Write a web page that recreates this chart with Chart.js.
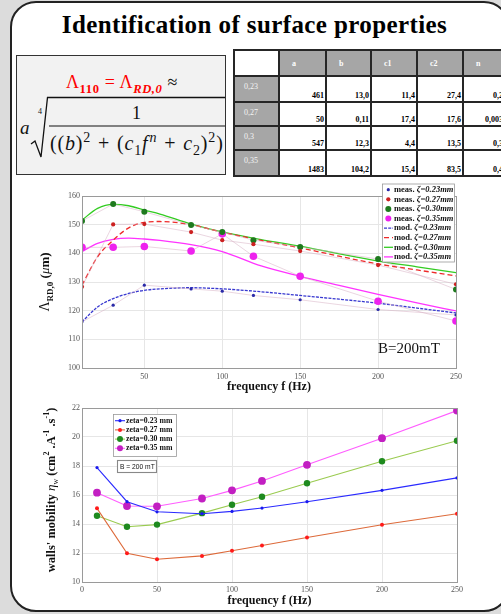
<!DOCTYPE html>
<html>
<head>
<meta charset="utf-8">
<script src="https://cdn.jsdelivr.net/npm/chart.js@4.4.1/dist/chart.umd.min.js"></script>
<style>
  html, body { margin: 0; padding: 0; }
  body { width: 501px; height: 614px; overflow: hidden; background: #dcdcdc; position: relative; font-family: 'Liberation Serif', serif; }
  #panel { position: absolute; left: 10px; top: 1px; width: 500px; height: 611px; box-sizing: border-box;
           border: 2px solid #222; border-radius: 26px; background: #fff; overflow: hidden; }
  #titre { position: absolute; left: 4px; top: 12px; width: 501px; text-align: center; font: bold 25px 'Liberation Serif', serif; line-height: 25px; letter-spacing: 0.4px; color: #000; }
  #formule { position: absolute; left: 16px; top: 55px; width: 210px; height: 120px; box-sizing: border-box;
             border: 1.5px solid #333; background: #f2f2f2; overflow: hidden; font-family: 'Liberation Serif', serif; color: #111; }
  #formule div, #formule svg { position: absolute; white-space: nowrap; line-height: 1; }
  #formule sub, #formule sup { font-size: 0.7em; line-height: 0; }
  #tabela { position: absolute; left: 233px; top: 49px; border-collapse: collapse; table-layout: fixed; font-family: 'Liberation Serif', serif; }
  #tabela td { border: 2px solid #262626; padding: 0; box-sizing: border-box; font-size: 8px; }
  #tabela td.cab { background: #a6a6a6; color: #fff; font-weight: bold; padding-left: 12px; vertical-align: middle; }
  #tabela td.lin { background: #a6a6a6; color: #f4f4f4; padding-left: 9px; padding-top: 5px; vertical-align: top; }
  #tabela td.val { background: #fff; color: #000; font-weight: bold; text-align: right; vertical-align: bottom; padding-right: 1px; padding-bottom: 1px; }
  canvas { position: absolute; left: 0; }
  #c1 { top: 180px; }
  #c2 { top: 400px; }
</style>
</head>
<body>
<div id="panel"></div>
<div id="titre">Identification of surface properties</div>

<div id="formule">
  <div style="left:0; width:210px; top:17px; text-align:center; font-size:18px; letter-spacing:0.6px;"><span style="color:#f00">Λ<sub style="font-weight:bold">110</sub> = Λ<sub style="font-weight:bold;font-style:italic">RD,0</sub></span> ≈</div>
  <div style="left:3px; top:62px; font-size:19px; font-style:italic;">a</div>
  <div style="left:21px; top:52px; font-size:8px;">4</div>
  <svg width="210" height="120" style="left:0;top:0;"><path d="M14 88 L18 85 L24 101 L30.5 41.5 L210 41.5" fill="none" stroke="#111" stroke-width="1.3"/><line x1="32" y1="70" x2="210" y2="70" stroke="#111" stroke-width="1.2"/></svg>
  <div style="left:32px; width:175px; top:48px; text-align:center; font-size:18px;">1</div>
  <div style="left:33px; top:77px; font-size:20px; letter-spacing:0.8px;">((<i>b</i>)<sup>2</sup><span style="margin:0 7px">+</span>(<i>c</i><sub>1</sub><i style="margin-right:1px">f</i><sup><i>n</i></sup><span style="margin:0 7px">+</span><i>c</i><sub>2</sub>)<sup>2</sup>)</div>
</div>

<table id="tabela"></table>

<canvas id="c1" width="501" height="215"></canvas>
<canvas id="c2" width="501" height="214"></canvas>

<script>
// ---- dados da tabela ----
const colunasTabela = ['a', 'b', 'c1', 'c2', 'n'];
const linhasTabela = ['0,23', '0,27', '0,3', '0,35'];
const paramA = ['461', '50', '547', '1483'];
const paramB = ['13,0', '0,11', '12,3', '104,2'];
const paramC1 = ['11,4', '17,4', '4,4', '15,4'];
const paramC2 = ['27,4', '17,6', '13,5', '83,5'];
const paramN = ['0,26', '0,0037', '0,31', '0,46'];

// ---- grafico 1 : Lambda RD,0 ----
const zetas = ['0.23', '0.27', '0.30', '0.35'];
const freq = [10, 30, 50, 80, 100, 120, 150, 200, 250];
const measZ23 = [116.1, 121.9, 128.9, 127.6, 126.8, 125.3, 123.8, 120.4, 118.5];
const measZ27 = [128.3, 150.1, 150.2, 147.4, 144.6, 143.2, 140.8, 135.9, 129.2];
const measZ30 = [151.3, 157.2, 154.5, 149.9, 147.4, 144.6, 142.2, 138.0, 127.4];
const measZ35 = [142.1, 142.1, 142.4, 140.8, 146.8, 139.0, 132.0, 123.3, 116.4];

const modFreq = [10, 20, 30, 40, 50, 60, 80, 100, 125, 150, 175, 200, 225, 250];
const modZ23 = [116.1, 121.3, 124.2, 126.0, 127.1, 127.6, 128.0, 127.6, 126.6, 125.3, 124.0, 122.6, 120.9, 119.2];
const modZ27 = [128.9, 138.8, 144.6, 148.9, 150.8, 151.1, 150.0, 147.4, 144.5, 141.9, 139.0, 136.3, 134.2, 132.1];
const modZ30 = [151.6, 155.7, 157.1, 156.6, 155.1, 153.7, 150.2, 147.5, 144.8, 142.5, 139.8, 137.3, 135.3, 133.3];
const modZ35 = [140.6, 143.5, 144.9, 145.3, 145.0, 144.5, 143.0, 140.6, 135.6, 132.0, 128.8, 125.7, 122.7, 119.9];
const ticksX1 = [50, 100, 150, 200, 250];

// ---- grafico 2 : mobilidade das paredes ----
const mobZ23 = [17.89, 15.54, 14.84, 14.71, 14.87, 15.10, 15.54, 16.32, 17.18];
const mobZ27 = [15.08, 11.98, 11.57, 11.80, 12.15, 12.52, 13.07, 13.95, 14.71];
const mobZ30 = [14.57, 13.81, 13.96, 14.75, 15.33, 15.88, 16.81, 18.33, 19.74];
const mobZ35 = [16.16, 15.24, 15.22, 15.76, 16.32, 16.97, 18.08, 19.92, 21.82];

// monta a tabela
(function () {
    const tab = document.getElementById('tabela');
    const larguras = [45, 47, 45, 46, 46, 46];
    const alturas = [26, 26, 24, 24, 26];
    let html = '<colgroup>' + larguras.map(w => '<col style="width:' + w + 'px">').join('') + '</colgroup>';
    html += '<tr style="height:' + alturas[0] + 'px"><td style="background:#fff"></td>' +
        colunasTabela.map(c => '<td class="cab">' + c + '</td>').join('') + '</tr>';
    const cols = [paramA, paramB, paramC1, paramC2, paramN];
    linhasTabela.forEach(function (r, i) {
        html += '<tr style="height:' + alturas[i + 1] + 'px"><td class="lin">' + r + '</td>' +
            cols.map(c => '<td class="val">' + c[i] + '</td>').join('') + '</tr>';
    });
    tab.innerHTML = html;
    tab.style.width = larguras.reduce((a, b) => a + b, 0) + 'px';
})();

const serif = "'Liberation Serif', 'Times New Roman', serif";
const pontos = (xs, ys) => xs.map((x, i) => ({ x: x, y: ys[i] }));

// texto com indices / expoentes
function textoRico(ctx, partes, cx, cy, rot) {
    ctx.save();
    ctx.translate(cx, cy);
    ctx.rotate(rot || 0);
    ctx.textBaseline = 'alphabetic';
    ctx.textAlign = 'left';
    let total = 0;
    partes.forEach(p => { ctx.font = p.font; p.w = ctx.measureText(p.t).width; total += p.w; });
    let x = -total / 2;
    partes.forEach(p => {
        ctx.font = p.font;
        ctx.fillStyle = '#111';
        ctx.fillText(p.t, x, p.dy || 0);
        x += p.w;
    });
    ctx.restore();
}

const moldura = {
    id: 'moldura',
    afterDatasetsDraw(chart) {
        const a = chart.chartArea, ctx = chart.ctx;
        ctx.save();
        ctx.strokeStyle = '#9a9a9a';
        ctx.lineWidth = 1;
        ctx.strokeRect(Math.round(a.left) + 0.5, Math.round(a.top) + 0.5, Math.round(a.right - a.left), Math.round(a.bottom - a.top));
        ctx.restore();
    }
};

// ===== grafico 1 =====
const corMeas = ['#2a2aa8', '#cc2020', '#1e7a1e', '#ee22ee'];
const raioMeas = [1.6, 2.1, 3, 3.8];
const corMod = ['#3838d0', '#ee2a2a', '#33cc22', '#ff33ff'];
const tracoMod = [[3, 1.2], [5, 3], [], []];
const measAll = [measZ23, measZ27, measZ30, measZ35];
const modAll = [modZ23, modZ27, modZ30, modZ35];

const ds1 = [];
measAll.forEach(function (m, i) {
    ds1.push({
        data: pontos(freq, m), showLine: true, borderColor: 'rgba(215,175,195,0.65)', borderWidth: 0.8,
        pointRadius: raioMeas[i], pointBackgroundColor: corMeas[i], pointBorderColor: corMeas[i], pointBorderWidth: 0
    });
});
modAll.forEach(function (m, i) {
    ds1.push({
        data: pontos(modFreq, m), borderColor: corMod[i], borderWidth: 1.3, borderDash: tracoMod[i],
        pointRadius: 0, tension: 0.4, cubicInterpolationMode: 'monotone'
    });
});

const extras1 = {
    id: 'extras1',
    afterDraw(chart) {
        const ctx = chart.ctx;
        // titulos dos eixos
        ctx.save();
        ctx.fillStyle = '#111';
        ctx.font = 'bold 12px ' + serif;
        ctx.textAlign = 'center';
        ctx.textBaseline = 'alphabetic';
        ctx.fillText('frequency f (Hz)', (chart.chartArea.left + chart.chartArea.right) / 2, 210);
        ctx.restore();
        textoRico(ctx, [
            { t: 'Λ', font: '14px ' + serif },
            { t: 'RD,0', font: 'bold 9px ' + serif, dy: 4 },
            { t: ' (', font: 'bold 13px ' + serif },
            { t: 'μ', font: 'italic 13px ' + serif },
            { t: 'm)', font: 'bold 13px ' + serif }
        ], 49, 102, -Math.PI / 2);
        // B=200mT
        ctx.save();
        ctx.fillStyle = '#111';
        ctx.font = '15px ' + serif;
        ctx.textBaseline = 'alphabetic';
        ctx.fillText('B=200mT', 378, 173);
        ctx.restore();
        // legenda
        const lx = 382.5, ly = 4, lw = 72, lh = 78;
        ctx.save();
        ctx.fillStyle = '#fff';
        ctx.fillRect(lx, ly, lw, lh);
        ctx.strokeStyle = '#9a9a9a';
        ctx.lineWidth = 0.8;
        ctx.strokeRect(lx, ly, lw, lh);
        ctx.textBaseline = 'middle';
        for (let k = 0; k < 8; k++) {
            const y = 9.7 + k * 9.6;
            const i = k % 4;
            if (k < 4) {
                ctx.fillStyle = corMeas[i];
                ctx.beginPath();
                ctx.arc(388.3, y, Math.min(raioMeas[i], 3), 0, Math.PI * 2);
                ctx.fill();
            } else {
                ctx.strokeStyle = corMod[i];
                ctx.lineWidth = 1.3;
                ctx.setLineDash(tracoMod[i]);
                ctx.beginPath();
                ctx.moveTo(384, y);
                ctx.lineTo(393, y);
                ctx.stroke();
                ctx.setLineDash([]);
            }
            const pre = k < 4 ? 'meas. ' : 'mod. ';
            ctx.fillStyle = '#111';
            ctx.font = 'bold 8.5px ' + serif;
            ctx.fillText(pre, 394, y);
            const w = ctx.measureText(pre).width;
            ctx.font = 'italic bold 8.5px ' + serif;
            ctx.fillText('ζ=' + zetas[i] + 'mm', 394 + w, y);
        }
        ctx.restore();
    }
};

new Chart(document.getElementById('c1'), {
    type: 'line',
    data: { datasets: ds1 },
    options: {
        responsive: false,
        animation: false,
        layout: { padding: { top: 16, right: 45, left: 0, bottom: 0 } },
        plugins: { legend: { display: false }, tooltip: { enabled: false } },
        scales: {
            x: {
                type: 'linear', min: 10, max: 250,
                afterBuildTicks: s => { s.ticks = ticksX1.map(v => ({ value: v })); },
                afterFit: s => { s.height = 27; },
                grid: { color: '#e6e6e6', drawTicks: false },
                border: { color: '#9a9a9a' },
                ticks: { font: { family: serif, size: 8 }, color: '#555', padding: 4, maxRotation: 0 }
            },
            y: {
                min: 100, max: 160,
                afterFit: s => { s.width = 82; },
                grid: { color: '#e6e6e6', drawTicks: false },
                border: { color: '#9a9a9a' },
                ticks: { stepSize: 10, font: { family: serif, size: 8 }, color: '#555', padding: 2 }
            }
        }
    },
    plugins: [moldura, extras1]
});

// ===== grafico 2 =====
const corLinha2 = ['#2a2aff', '#dd6a3a', '#9acb50', '#ff5cff'];
const corPonto2 = ['#1a1aee', '#ff1a1a', '#1e8a1e', '#c21fc2'];
const raio2 = [1.6, 2, 3.2, 3.9];
const mobAll = [mobZ23, mobZ27, mobZ30, mobZ35];

const ds2 = mobAll.map(function (m, i) {
    return {
        data: pontos(freq, m), borderColor: corLinha2[i], borderWidth: 1.1,
        pointRadius: raio2[i], pointBackgroundColor: corPonto2[i], pointBorderColor: corPonto2[i], pointBorderWidth: 0
    };
});

const extras2 = {
    id: 'extras2',
    afterDraw(chart) {
        const ctx = chart.ctx;
        ctx.save();
        ctx.fillStyle = '#111';
        ctx.font = 'bold 12px ' + serif;
        ctx.textAlign = 'center';
        ctx.fillText('frequency f (Hz)', (chart.chartArea.left + chart.chartArea.right) / 2, 204);
        ctx.restore();
        const b = 'bold 12.5px ' + serif, sm = 'bold 8px ' + serif;
        textoRico(ctx, [
            { t: "walls' mobility ", font: b },
            { t: 'η', font: 'italic 13px ' + serif },
            { t: 'w', font: '8px ' + serif, dy: 3 },
            { t: ' (cm', font: b },
            { t: '2', font: sm, dy: -6 },
            { t: ' .A', font: b },
            { t: '-1', font: sm, dy: -6 },
            { t: ' .s', font: b },
            { t: '-1', font: sm, dy: -6 },
            { t: ')', font: b }
        ], 55, 90, -Math.PI / 2);
        // legenda
        ctx.save();
        ctx.fillStyle = '#fff';
        ctx.fillRect(113.5, 14.5, 63, 42);
        ctx.strokeStyle = '#9a9a9a';
        ctx.lineWidth = 0.8;
        ctx.strokeRect(113.5, 14.5, 63, 42);
        ctx.textBaseline = 'middle';
        zetas.forEach(function (z, i) {
            const y = 20.7 + i * 9.2;
            ctx.strokeStyle = corLinha2[i];
            ctx.lineWidth = 1.1;
            ctx.beginPath();
            ctx.moveTo(115, y);
            ctx.lineTo(125, y);
            ctx.stroke();
            ctx.fillStyle = corPonto2[i];
            ctx.beginPath();
            ctx.arc(120, y, Math.min(raio2[i], 3), 0, Math.PI * 2);
            ctx.fill();
            ctx.fillStyle = '#111';
            ctx.font = 'bold 7.8px ' + serif;
            ctx.fillText('zeta=' + z + ' mm', 126, y);
        });
        // caixa B = 200 mT
        ctx.fillStyle = '#fff';
        ctx.fillRect(117.5, 60.5, 39, 12);
        ctx.strokeStyle = '#888';
        ctx.strokeRect(117.5, 60.5, 39, 12);
        ctx.fillStyle = '#111';
        ctx.font = '6.7px "Liberation Sans", Arial, sans-serif';
        ctx.fillText('B = 200 mT', 120, 66.8);
        ctx.restore();
    }
};

new Chart(document.getElementById('c2'), {
    type: 'line',
    data: { datasets: ds2 },
    options: {
        responsive: false,
        animation: false,
        layout: { padding: { top: 8, right: 44, left: 0, bottom: 0 } },
        plugins: { legend: { display: false }, tooltip: { enabled: false } },
        scales: {
            x: {
                type: 'linear', min: 0, max: 250,
                afterFit: s => { s.height = 32; },
                grid: { color: '#e6e6e6', drawTicks: false },
                border: { color: '#9a9a9a' },
                ticks: { stepSize: 50, font: { family: serif, size: 8 }, color: '#555', padding: 3, maxRotation: 0 }
            },
            y: {
                min: 10, max: 22,
                afterFit: s => { s.width = 82; },
                grid: { color: '#e6e6e6', drawTicks: false },
                border: { color: '#9a9a9a' },
                ticks: { stepSize: 2, font: { family: serif, size: 8 }, color: '#555', padding: 2 }
            }
        }
    },
    plugins: [moldura, extras2]
});
</script>
</body>
</html>
